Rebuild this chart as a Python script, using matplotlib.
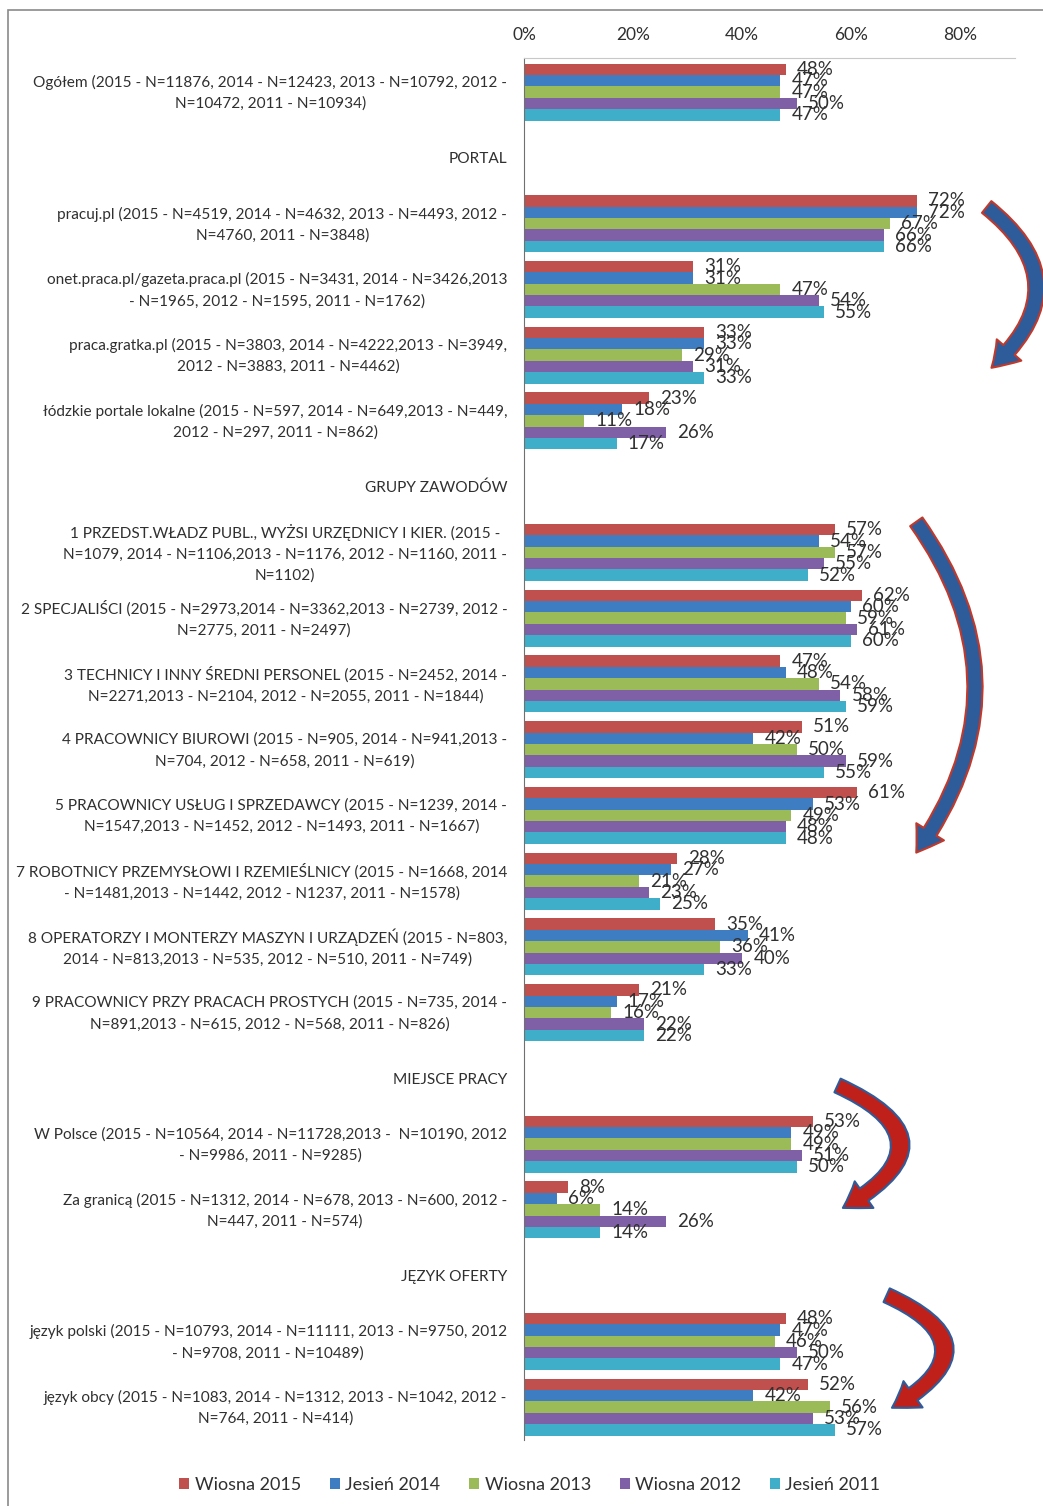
import numpy as np
import matplotlib
matplotlib.use("Agg")
from matplotlib import pyplot as plt
from matplotlib.patches import Rectangle
from matplotlib.transforms import offset_copy

plt.rcParams['font.family'] = ['Lato', 'DejaVu Sans']

# rows of the chart, top to bottom; section headers have no bars
categories = [
    "Ogółem (2015 - N=11876, 2014 - N=12423, 2013 - N=10792, 2012 -\nN=10472, 2011 - N=10934)",
    "PORTAL",
    "pracuj.pl (2015 - N=4519, 2014 - N=4632, 2013 - N=4493, 2012 -\nN=4760, 2011 - N=3848)",
    "onet.praca.pl/gazeta.praca.pl (2015 - N=3431, 2014 - N=3426,2013\n- N=1965, 2012 - N=1595, 2011 - N=1762)",
    "praca.gratka.pl (2015 - N=3803, 2014 - N=4222,2013 - N=3949,\n2012 - N=3883, 2011 - N=4462)",
    "łódzkie portale lokalne (2015 - N=597, 2014 - N=649,2013 - N=449,\n2012 - N=297, 2011 - N=862)",
    "GRUPY ZAWODÓW",
    "1 PRZEDST.WŁADZ PUBL., WYŻSI URZĘDNICY I KIER. (2015 -\nN=1079, 2014 - N=1106,2013 - N=1176, 2012 - N=1160, 2011 -\nN=1102)",
    "2 SPECJALIŚCI (2015 - N=2973,2014 - N=3362,2013 - N=2739, 2012 -\nN=2775, 2011 - N=2497)",
    "3 TECHNICY I INNY ŚREDNI PERSONEL (2015 - N=2452, 2014 -\nN=2271,2013 - N=2104, 2012 - N=2055, 2011 - N=1844)",
    "4 PRACOWNICY BIUROWI (2015 - N=905, 2014 - N=941,2013 -\nN=704, 2012 - N=658, 2011 - N=619)",
    "5 PRACOWNICY USŁUG I SPRZEDAWCY (2015 - N=1239, 2014 -\nN=1547,2013 - N=1452, 2012 - N=1493, 2011 - N=1667)",
    "7 ROBOTNICY PRZEMYSŁOWI I RZEMIEŚLNICY (2015 - N=1668, 2014\n- N=1481,2013 - N=1442, 2012 - N1237, 2011 - N=1578)",
    "8 OPERATORZY I MONTERZY MASZYN I URZĄDZEŃ (2015 - N=803,\n2014 - N=813,2013 - N=535, 2012 - N=510, 2011 - N=749)",
    "9 PRACOWNICY PRZY PRACACH PROSTYCH (2015 - N=735, 2014 -\nN=891,2013 - N=615, 2012 - N=568, 2011 - N=826)",
    "MIEJSCE PRACY",
    "W Polsce (2015 - N=10564, 2014 - N=11728,2013 -  N=10190, 2012\n- N=9986, 2011 - N=9285)",
    "Za granicą (2015 - N=1312, 2014 - N=678, 2013 - N=600, 2012 -\nN=447, 2011 - N=574)",
    "JĘZYK OFERTY",
    "język polski (2015 - N=10793, 2014 - N=11111, 2013 - N=9750, 2012\n- N=9708, 2011 - N=10489)",
    "język obcy (2015 - N=1083, 2014 - N=1312, 2013 - N=1042, 2012 -\nN=764, 2011 - N=414)",
]

series_names = ["Wiosna 2015", "Jesień 2014", "Wiosna 2013", "Wiosna 2012", "Jesień 2011"]

# percentages per row (None = header row)
wiosna_2015 = [48, None, 72, 31, 33, 23, None, 57, 62, 47, 51, 61, 28, 35, 21, None, 53, 8, None, 48, 52]
jesien_2014 = [47, None, 72, 31, 33, 18, None, 54, 60, 48, 42, 53, 27, 41, 17, None, 49, 6, None, 47, 42]
wiosna_2013 = [47, None, 67, 47, 29, 11, None, 57, 59, 54, 50, 49, 21, 36, 16, None, 49, 14, None, 46, 56]
wiosna_2012 = [50, None, 66, 54, 31, 26, None, 55, 61, 58, 59, 48, 23, 40, 22, None, 51, 26, None, 50, 53]
jesien_2011 = [47, None, 66, 55, 33, 17, None, 52, 60, 59, 55, 48, 25, 33, 22, None, 50, 14, None, 47, 57]

series = [wiosna_2015, jesien_2014, wiosna_2013, wiosna_2012, jesien_2011]
colors = ["#C0504D", "#3F7DC2", "#9BBB59", "#7F5FA6", "#3FAEC8"]

fig = plt.figure(figsize=(10.43, 15.06), dpi=100, facecolor='w')
ax = fig.add_axes([0.5024, 0.0438, 0.4708, 0.9177])

y = np.arange(len(categories))
bar_h = 0.173
for i, (vals, col, name) in enumerate(zip(series, colors, series_names)):
    pos = y + (i - 2) * bar_h
    v = np.array([np.nan if a is None else a for a in vals], dtype=float)
    ax.barh(pos, np.nan_to_num(v), height=bar_h, color=col, label=name, linewidth=0)
    for p, val in zip(pos, vals):
        if val is None:
            continue
        ax.annotate(f"{val}%", xy=(val, p), xytext=(8, 0), textcoords='offset points',
                    va='center', ha='left', fontsize=13.5, color='#303030')

ax.set_xlim(0, 90)
ax.set_ylim(len(categories) - 0.5, -0.52)
ax.xaxis.tick_top()
ax.set_xticks([0, 20, 40, 60, 80])
ax.set_xticklabels(["0%", "20%", "40%", "60%", "80%"])
ax.tick_params(axis='x', length=0, pad=11, labelsize=12.5, labelcolor='#303030')
ax.set_yticks(y)
ax.set_yticklabels(categories)
ax.tick_params(axis='y', length=0, pad=12, labelsize=11.1, labelcolor='#303030')
for t in ax.get_yticklabels():
    t.set_multialignment('center')
    t.set_linespacing(1.6)
    if "\n" in t.get_text():
        # pull wrapped labels up a little so they sit centred on their bars
        t.set_transform(offset_copy(t.get_transform(), fig=fig, x=0, y=4, units='dots'))

for s in ['right', 'bottom']:
    ax.spines[s].set_visible(False)
ax.spines['left'].set_color('#707070')
ax.spines['top'].set_color('#c8c8c8')

# curved arrows next to the sections: start, end, bend, fill, edge
arrow_specs = [
    ((84.4, 1.72), (85.3, 4.22), -0.6, "#2E5C9A", "#C0392B"),
    ((71.6, 6.5), (71.6, 11.6), -0.36, "#2E5C9A", "#C0392B"),
    ((57.0, 15.09), (58.0, 16.99), -1.0, "#C0201A", "#2E5C9A"),
    ((66.0, 18.28), (67.0, 20.03), -1.0, "#C0201A", "#2E5C9A"),
]
for (x0, y0), (x1, y1), rad, face, edge in arrow_specs:
    ax.annotate("", xy=(x1, y1), xytext=(x0, y0), xycoords='data', annotation_clip=False,
                arrowprops=dict(arrowstyle="simple,head_length=1.0,head_width=1.3,tail_width=0.6",
                                connectionstyle=f"arc3,rad={rad}", mutation_scale=18,
                                fc=face, ec=edge, lw=1.5))

ax.legend(loc='upper center', bbox_to_anchor=(0.508, 0.03), bbox_transform=fig.transFigure,
          ncol=5, frameon=False, fontsize=13, handlelength=0.55, handleheight=0.55,
          handletextpad=0.3, columnspacing=1.6, labelcolor='#303030')

# outer frame
fig.patches.append(Rectangle((8 / 1043, -0.01), 1.1, 1 - 10 / 1506 + 0.01, transform=fig.transFigure,
                             fill=False, ec='#8a8a8a', lw=1.2))

fig.savefig("out.png", dpi=100, facecolor='w')
